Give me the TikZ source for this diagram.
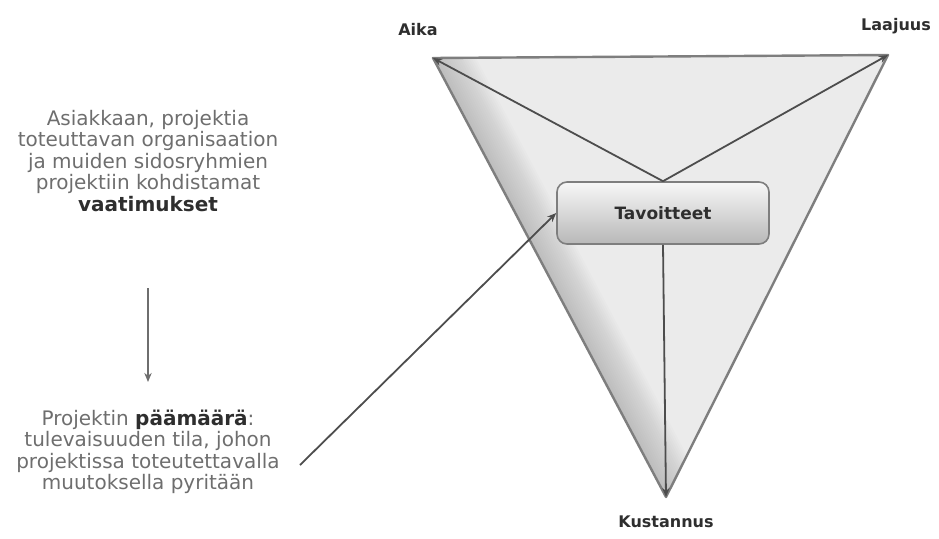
\documentclass[tikz,border=0pt]{standalone}
\usepackage{fontspec}
\setmainfont{DejaVu Sans}
\usepackage{xcolor}
\usepackage{tikz}
\usetikzlibrary{positioning,arrows.meta,calc}
\definecolor{ink}{HTML}{2E2E2E}
\definecolor{soft}{HTML}{6E6E6E}
\definecolor{rim}{HTML}{7E7E7E}
\definecolor{pane}{HTML}{EBEBEB}
\definecolor{shade}{HTML}{B8B8B8}

\begin{document}
\begin{tikzpicture}[
  x=1pt,y=-1pt,
  font=\fontsize{20}{21.5}\selectfont,
  note/.style={align=center,text=soft,inner sep=0pt},
  corner/.style={font=\fontsize{16}{18}\selectfont\bfseries,text=ink,inner sep=0pt},
  goal/.style={draw=rim,line width=1.6pt,rounded corners=10pt,minimum width=212pt,minimum height=62pt,top color=white!94!gray,bottom color=shade,font=\fontsize{17}{19}\selectfont\bfseries,text=ink},
  arr/.style={-{Stealth[length=3.2mm,width=2.6mm]},line width=1.8pt,ink!85}
]
\useasboundingbox (0,0) rectangle (939,538);
% triangle
\coordinate (aika) at (433,58);
\coordinate (laaj) at (888,55);
\coordinate (kust) at (666,497);
\fill[pane] (aika) -- (laaj) -- (kust) -- cycle;
\begin{scope}
  \clip (aika) -- (laaj) -- (kust) -- cycle;
  \foreach \w in {4,8,...,76}
    \draw[gray,line width=\w pt,opacity=0.022] (aika) -- (kust);
\end{scope}
\draw[rim,line width=2.4pt,line join=round] (aika) -- (laaj) -- (kust) -- cycle;
\node[corner] (laika) at ($(aika)+(-15,-28)$) {Aika};
\node[corner] (llaaj) at ($(laaj)+(8,-29)$) {Laajuus};
\node[corner] (lkust) at ($(kust)+(0,25)$) {Kustannus};
% goal box
\node[goal] (tav) at (663,213) {Tavoitteet};
\draw[arr] (tav.north) -- (aika);
\draw[arr] (tav.north) -- (laaj);
\draw[arr] (tav.south) -- (kust);
% left texts
\node[note] (vaat) at (148,161) {Asiakkaan, projektia\\toteuttavan organisaation\\ja muiden sidosryhmien\\projektiin kohdistamat\\{\bfseries\color{ink}vaatimukset}};
\node[note] (paam) at (148,452) {Projektin {\bfseries\color{ink}päämäärä}:\\tulevaisuuden tila, johon\\projektissa toteutettavalla\\muutoksella pyritään};
\coordinate (s1) at (148,288);
\coordinate (e1) at (148,382);
\draw[arr,line width=1.4pt,soft] (s1) -- (e1);
\coordinate (from) at (300,465);
\draw[arr] (from) -- (tav.west);
\end{tikzpicture}
\end{document}
